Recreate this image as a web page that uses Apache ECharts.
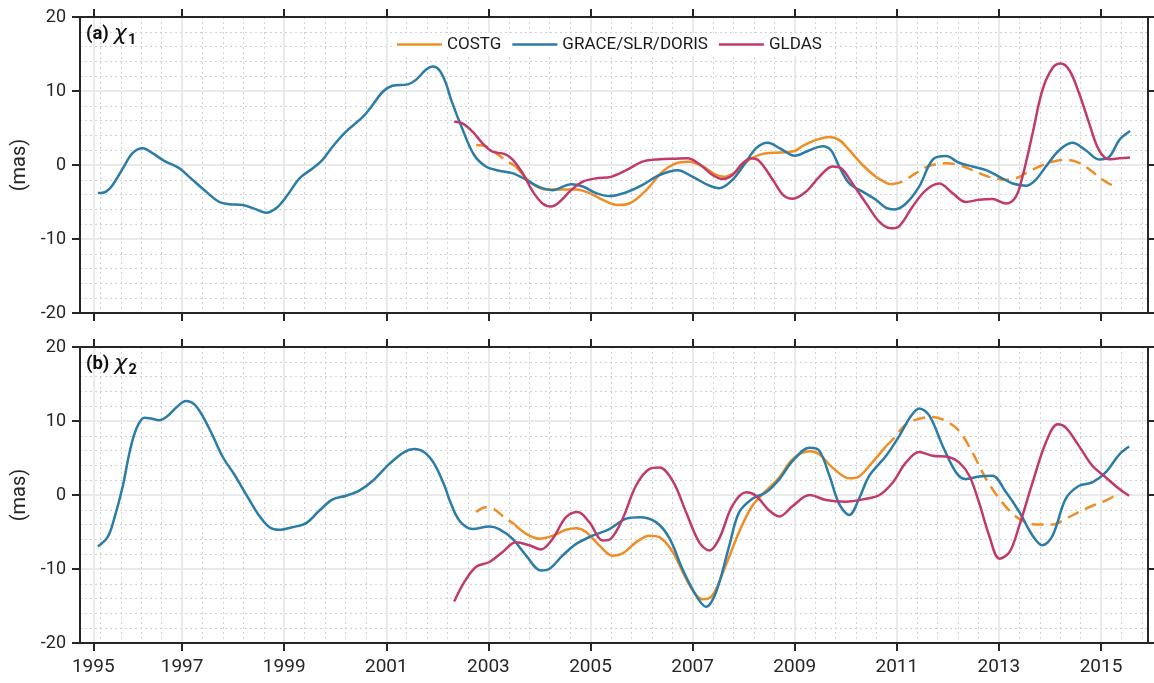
<!DOCTYPE html>
<html>
<head>
<meta charset="utf-8">
<script src="https://cdn.jsdelivr.net/npm/echarts@6/dist/echarts.min.js"></script>
<style>
html,body{margin:0;padding:0;background:#fff;}
#c{width:1154px;height:683px;}
</style>
</head>
<body>
<div id="c"></div>
<script>
// ---------- tick labels ----------
const xTickYears = [1995.26, 1997, 1999, 2001, 2003, 2005, 2007, 2009, 2011, 2013, 2015];
const xTickLabels = ['1995', '1997', '1999', '2001', '2003', '2005', '2007', '2009', '2011', '2013', '2015'];
const yTicks = [-20, -10, 0, 10, 20];
const seriesNames = ['COSTG', 'GRACE/SLR/DORIS', 'GLDAS'];
const panelLabels = ['(a)', '(b)'];
const panelSubs = ['1', '2'];

// ---------- (a) chi1 ----------
const graceT1 = [1995.35,1995.51,1995.64,1995.84,1996.03,1996.23,1996.42,1996.65,1996.95,1997.14,1997.47,1997.73,1997.93,1998.19,1998.45,1998.65,1998.84,1999.04,1999.30,1999.56,1999.75,1999.95,2000.21,2000.54,2000.73,2000.93,2001.12,2001.42,2001.58,2001.78,2001.91,2002.04,2002.17,2002.27,2002.50,2002.72,2002.95,2003.21,2003.47,2003.74,2004.00,2004.26,2004.62,2004.85,2005.11,2005.37,2005.70,2006.02,2006.35,2006.71,2007.00,2007.33,2007.52,2007.78,2008.05,2008.24,2008.47,2008.72,2009.00,2009.29,2009.55,2009.71,2009.87,2010.07,2010.33,2010.59,2010.79,2010.95,2011.18,2011.44,2011.70,2011.96,2012.22,2012.48,2012.75,2013.01,2013.27,2013.53,2013.72,2013.92,2014.18,2014.44,2014.70,2014.96,2015.16,2015.36,2015.57];
const graceV1 = [-3.8,-3.6,-2.7,-0.45,1.6,2.25,1.6,0.55,-0.45,-1.6,-3.6,-5.0,-5.3,-5.4,-6.0,-6.45,-5.85,-4.3,-1.8,-0.45,0.7,2.5,4.5,6.5,8.1,9.9,10.7,10.9,11.5,12.9,13.3,12.8,11.0,8.8,4.7,1.35,-0.2,-0.77,-1.1,-2.0,-3.0,-3.4,-2.6,-2.9,-3.8,-4.2,-3.7,-2.7,-1.35,-0.7,-1.6,-2.8,-3.15,-2.0,0.45,2.25,3.0,2.2,1.25,2.0,2.55,2.0,-0.2,-2.5,-3.6,-4.7,-5.8,-6.0,-5.2,-2.9,0.7,1.2,0.3,-0.2,-0.7,-1.6,-2.5,-2.8,-2.0,-0.2,2.0,3.0,2.0,0.75,1.1,3.4,4.6];

const gldasT1 = [2002.33,2002.50,2002.69,2002.89,2003.08,2003.31,2003.47,2003.67,2003.87,2004.06,2004.23,2004.39,2004.62,2004.85,2005.11,2005.40,2005.70,2006.02,2006.35,2006.67,2006.90,2007.13,2007.39,2007.59,2007.78,2007.98,2008.14,2008.31,2008.57,2008.78,2008.96,2009.22,2009.48,2009.74,2009.91,2010.13,2010.40,2010.66,2010.88,2011.05,2011.31,2011.57,2011.83,2012.09,2012.35,2012.61,2012.87,2013.14,2013.33,2013.46,2013.66,2013.85,2014.05,2014.21,2014.38,2014.57,2014.77,2014.96,2015.16,2015.36,2015.57];
const gldasV1 = [5.85,5.6,4.5,2.9,1.8,1.5,0.77,-1.1,-3.6,-5.2,-5.6,-5.0,-3.4,-2.25,-1.8,-1.6,-0.7,0.45,0.77,0.85,0.9,0.13,-1.35,-1.9,-1.35,0.23,0.9,0.5,-2.0,-4.1,-4.55,-3.6,-1.6,-0.2,-0.45,-2.5,-5.2,-7.7,-8.55,-8.25,-5.6,-3.4,-2.5,-3.8,-5.0,-4.7,-4.6,-5.2,-4.3,-1.6,4.3,10.1,13.1,13.7,12.8,9.7,5.6,2.0,0.77,0.9,1.0];

const costgT1 = [2002.76,2002.95,2003.15,2003.31,2003.54,2003.74,2003.93,2004.13,2004.39,2004.72,2004.98,2005.24,2005.53,2005.76,2006.09,2006.41,2006.67,2006.93,2007.20,2007.46,2007.62,2007.85,2008.11,2008.37,2008.70,2009.00,2009.15,2009.42,2009.68,2009.87,2010.07,2010.33,2010.59,2010.79,2010.88,2011.11,2011.37,2011.63,2011.96,2012.22,2012.48,2012.81,2013.14,2013.33,2013.53,2013.79,2014.05,2014.31,2014.57,2014.83,2015.03,2015.23];
const costgV1 = [2.7,2.5,1.6,0.77,-0.2,-1.8,-2.85,-3.3,-3.3,-3.3,-3.8,-4.7,-5.4,-5.2,-3.4,-0.9,0.23,0.45,-0.2,-1.35,-1.6,-0.9,0.7,1.5,1.7,1.9,2.55,3.4,3.8,3.4,2.0,0.0,-1.6,-2.4,-2.6,-2.25,-1.1,-0.13,0.23,0.0,-0.7,-1.6,-2.0,-1.8,-1.1,-0.2,0.45,0.7,0.3,-0.9,-2.0,-2.8];
const costgSolid1 = [2003.54, 2010.88];   // COSTG drawn solid between these years, dashed outside

// ---------- (b) chi2 ----------
const graceT2 = [1995.35,1995.54,1995.67,1995.84,1995.97,1996.10,1996.26,1996.39,1996.55,1996.72,1996.88,1997.08,1997.24,1997.40,1997.60,1997.80,1998.02,1998.25,1998.51,1998.71,1998.90,1999.16,1999.43,1999.69,1999.95,2000.21,2000.47,2000.73,2001.06,2001.35,2001.55,2001.75,2001.94,2002.14,2002.24,2002.43,2002.69,2003.02,2003.21,2003.47,2003.74,2004.03,2004.19,2004.45,2004.72,2005.04,2005.37,2005.70,2005.96,2006.29,2006.55,2006.80,2007.07,2007.26,2007.46,2007.72,2007.91,2008.17,2008.44,2008.70,2008.96,2009.29,2009.48,2009.68,2009.87,2010.07,2010.26,2010.46,2010.79,2011.05,2011.28,2011.44,2011.64,2011.90,2012.16,2012.35,2012.61,2012.87,2013.14,2013.40,2013.66,2013.85,2014.05,2014.31,2014.57,2014.83,2015.09,2015.36,2015.55];
const graceV2 = [-6.95,-5.7,-3.2,1.25,5.75,8.9,10.45,10.35,10.1,10.7,11.8,12.7,12.25,10.7,8.0,5.1,2.8,0.13,-2.8,-4.35,-4.7,-4.35,-3.8,-2.1,-0.6,-0.1,0.6,1.9,4.2,5.8,6.2,5.75,4.2,1.25,-0.7,-3.45,-4.6,-4.25,-4.6,-5.9,-8.2,-10.2,-10.0,-8.2,-6.6,-5.5,-4.6,-3.2,-3.0,-3.7,-5.9,-10.0,-13.6,-15.1,-13.1,-6.8,-2.35,-0.5,0.36,2.15,4.6,6.4,6.0,2.6,-1.2,-2.7,-0.5,2.6,5.3,8.0,10.7,11.7,10.7,6.6,3.05,2.15,2.5,2.6,0.36,-2.3,-5.5,-6.8,-5.5,-0.5,1.25,1.7,3.05,5.5,6.55];

const gldasT2 = [2002.33,2002.53,2002.76,2003.02,2003.28,2003.54,2003.80,2004.03,2004.26,2004.52,2004.75,2004.98,2005.24,2005.40,2005.63,2005.89,2006.15,2006.35,2006.61,2006.87,2007.13,2007.33,2007.52,2007.78,2008.05,2008.24,2008.50,2008.70,2008.96,2009.29,2009.61,2010.00,2010.40,2010.66,2010.92,2011.18,2011.44,2011.70,2012.03,2012.22,2012.42,2012.61,2012.81,2013.01,2013.21,2013.40,2013.66,2013.92,2014.15,2014.31,2014.57,2014.83,2015.09,2015.36,2015.55];
const gldasV2 = [-14.4,-11.75,-9.7,-9.05,-7.7,-6.4,-6.8,-7.35,-5.9,-3.0,-2.3,-3.7,-6.15,-5.9,-3.2,1.25,3.5,3.7,1.9,-2.3,-6.4,-7.5,-5.9,-1.45,0.36,-0.1,-2.1,-2.9,-1.5,0.0,-0.67,-0.9,-0.5,0.0,1.7,4.4,5.8,5.3,5.1,4.4,2.6,-1.0,-5.5,-8.6,-7.7,-4.1,1.7,7.1,9.55,9.1,6.6,3.95,2.4,0.8,-0.1];

const costgT2 = [2002.76,2002.95,2003.11,2003.31,2003.50,2003.74,2004.00,2004.26,2004.52,2004.72,2004.91,2005.17,2005.43,2005.63,2005.89,2006.15,2006.35,2006.61,2006.87,2007.07,2007.20,2007.39,2007.65,2007.91,2008.17,2008.44,2008.70,2008.96,2009.29,2009.48,2009.74,2010.07,2010.26,2010.52,2010.79,2010.92,2011.18,2011.44,2011.70,2011.96,2012.22,2012.48,2012.75,2013.01,2013.27,2013.53,2013.79,2014.05,2014.31,2014.57,2014.83,2015.09,2015.29];
const costgV2 = [-2.3,-1.65,-1.9,-3.0,-3.9,-5.25,-5.9,-5.5,-4.7,-4.5,-5.0,-6.8,-8.2,-7.9,-6.4,-5.5,-5.7,-7.7,-11.3,-13.55,-14.1,-13.55,-9.5,-5.0,-1.45,0.58,2.4,4.85,5.9,5.5,3.7,2.25,2.5,4.4,6.6,7.5,9.55,10.3,10.55,10.0,8.65,5.75,2.15,-0.5,-2.55,-3.7,-4.0,-4.0,-3.2,-2.3,-1.45,-0.77,0.0];
const costgSolid2 = [2003.50, 2010.79];

// ---------- styling ----------
const C_ORANGE = '#ee8e26', C_BLUE = '#2b7ca6', C_MAG = '#c03a6c';
const AX = '#262626';
const FONT = 'Roboto';

function pairs(t, v) { return t.map((x, i) => [x, v[i]]); }
function segment(t, v, lo, hi) {
  const out = [];
  for (let i = 0; i < t.length; i++) if (t[i] >= lo - 1e-9 && t[i] <= hi + 1e-9) out.push([t[i], v[i]]);
  return out;
}

const panels = [
  {grace: [graceT1, graceV1], gldas: [gldasT1, gldasV1], costg: [costgT1, costgV1], solid: costgSolid1},
  {grace: [graceT2, graceV2], gldas: [gldasT2, gldasV2], costg: [costgT2, costgV2], solid: costgSolid2}
];

const gridTops = [17, 347];
const grids = gridTops.map(t => ({left: 80, right: 6, top: t, height: 296, containLabel: false}));

const xAxes = [], yAxes = [], series = [];
gridTops.forEach((_, g) => {
  const fmt = v => { const i = xTickYears.findIndex(t => Math.abs(t - v) < 1e-6); return i >= 0 ? xTickLabels[i] : ''; };
  xAxes.push({
    gridIndex: g, type: 'value', position: 'bottom', min: 1995, max: 2015.92, interval: 2,
    axisLine: {show: true, onZero: false, lineStyle: {color: AX, width: 2}},
    axisTick: {show: true, inside: false, length: 8, lineStyle: {color: AX, width: 2}, customValues: xTickYears},
    axisLabel: {show: g === 1, customValues: xTickYears, formatter: fmt, color: '#262626', fontFamily: FONT, fontSize: 19, margin: 15},
    splitLine: {show: true, lineStyle: {color: '#e3e3e3', width: 1.5}},
    minorTick: {show: false, splitNumber: 5},
    minorSplitLine: {show: true, lineStyle: {color: '#d2d2d2', width: 1, type: [2, 3]}}
  });
  xAxes.push({
    gridIndex: g, type: 'value', position: 'top', min: 1995, max: 2015.92, interval: 2,
    axisLine: {show: true, onZero: false, lineStyle: {color: AX, width: 2}},
    axisTick: {show: true, inside: false, length: 8, lineStyle: {color: AX, width: 2}, customValues: xTickYears},
    axisLabel: {show: false}, splitLine: {show: false}
  });
  yAxes.push({
    gridIndex: g, type: 'value', position: 'left', min: -20, max: 20, interval: 10,
    name: '(mas)', nameLocation: 'middle', nameRotate: 90, nameGap: 45,
    nameTextStyle: {fontFamily: FONT, fontSize: 20, color: '#262626'},
    axisLine: {show: true, onZero: false, lineStyle: {color: AX, width: 2}},
    axisTick: {show: true, inside: false, length: 8, lineStyle: {color: AX, width: 2}},
    axisLabel: {show: true, color: '#262626', fontFamily: FONT, fontSize: 18, margin: 14,
      formatter: v => (yTicks.indexOf(v) >= 0 ? String(v) : '')},
    splitLine: {show: true, lineStyle: {color: '#e3e3e3', width: 1.5}},
    minorTick: {show: false, splitNumber: 5},
    minorSplitLine: {show: true, lineStyle: {color: '#d2d2d2', width: 1, type: [2, 3]}}
  });
  yAxes.push({
    gridIndex: g, type: 'value', position: 'right', min: -20, max: 20, interval: 10,
    axisLine: {show: true, onZero: false, lineStyle: {color: AX, width: 2}},
    axisTick: {show: true, inside: false, length: 8, lineStyle: {color: AX, width: 2}},
    axisLabel: {show: false}, splitLine: {show: false}
  });

  const p = panels[g];
  const xi = g * 2, yi = g * 2;
  const base = {type: 'line', xAxisIndex: xi, yAxisIndex: yi, showSymbol: false, symbol: 'none', smooth: 0.35, animation: false};
  const [ct, cv] = p.costg;
  series.push(Object.assign({}, base, {name: seriesNames[0], data: segment(ct, cv, p.solid[0], p.solid[1]),
    lineStyle: {color: C_ORANGE, width: 2.5}, itemStyle: {color: C_ORANGE}}));
  series.push(Object.assign({}, base, {name: seriesNames[0], data: segment(ct, cv, -Infinity, p.solid[0]),
    lineStyle: {color: C_ORANGE, width: 2.5, type: [12, 7]}, itemStyle: {color: C_ORANGE}}));
  series.push(Object.assign({}, base, {name: seriesNames[0], data: segment(ct, cv, p.solid[1], Infinity),
    lineStyle: {color: C_ORANGE, width: 2.5, type: [12, 7]}, itemStyle: {color: C_ORANGE}}));
  series.push(Object.assign({}, base, {name: seriesNames[1], data: pairs(p.grace[0], p.grace[1]),
    lineStyle: {color: C_BLUE, width: 2.5}, itemStyle: {color: C_BLUE}}));
  series.push(Object.assign({}, base, {name: seriesNames[2], data: pairs(p.gldas[0], p.gldas[1]),
    lineStyle: {color: C_MAG, width: 2.5}, itemStyle: {color: C_MAG}}));
});

const titles = gridTops.map((t, g) => ({
  text: '{b|' + panelLabels[g] + '} {c|χ}{s|' + panelSubs[g] + '}',
  left: 86, top: t + 4, padding: 0,
  textStyle: {fontWeight: 'normal', rich: {
    b: {fontFamily: FONT, fontWeight: 'bold', fontSize: 18.5, color: '#111'},
    c: {fontFamily: 'DejaVu Sans', fontStyle: 'italic', fontWeight: 'normal', fontSize: 22, color: '#111'},
    s: {fontFamily: FONT, fontWeight: 'bold', fontSize: 14.5, color: '#111', verticalAlign: 'bottom', padding: [12, 0, 0, 1]}
  }}
}));

const chart = echarts.init(document.getElementById('c'), null, {renderer: 'canvas'});
chart.setOption({
  animation: false,
  backgroundColor: '#fff',
  title: titles,
  legend: {
    data: seriesNames, left: 392, top: 33, icon: 'rect', itemWidth: 45, itemHeight: 2.5, itemGap: 11,
    backgroundColor: '#fff', padding: [3, 5],
    textStyle: {fontFamily: FONT, fontSize: 17, color: '#1a1a1a'}
  },
  grid: grids,
  xAxis: xAxes,
  yAxis: yAxes,
  series: series
});
</script>
</body>
</html>
